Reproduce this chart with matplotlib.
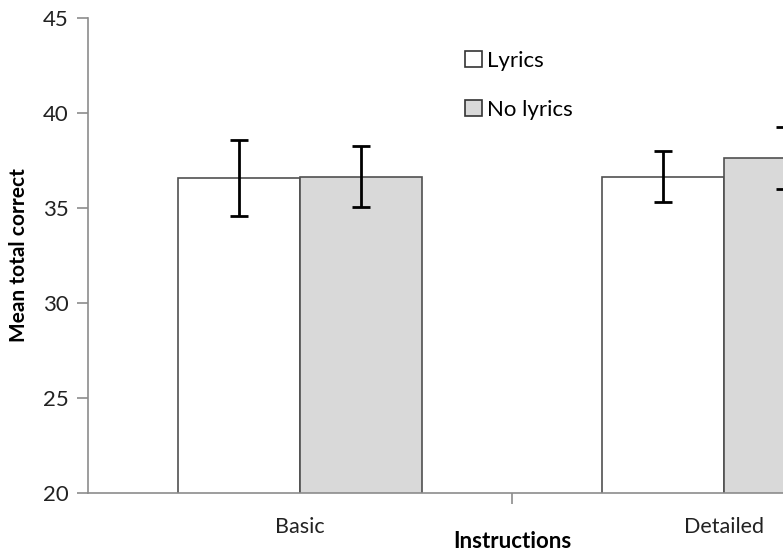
import matplotlib
matplotlib.use("Agg")
import matplotlib.pyplot as plt
import numpy as np

categories = ["Basic", "Detailed"]
series_names = ["Lyrics", "No lyrics"]
lyrics_means = [36.6, 36.65]
lyrics_err = [2.0, 1.35]
nolyrics_means = [36.65, 37.62]
nolyrics_err = [1.6, 1.64]
yticks = [20, 25, 30, 35, 40, 45]

plt.rcParams['font.family'] = ['Lato', 'DejaVu Sans']

W, H = 783, 554
fig = plt.figure(figsize=(W / 100, H / 100), dpi=100)
# axes spans x 88..936 px (clipped by figure), y 18..493 px
axw = 936 - 88
ax = fig.add_axes([88 / W, (H - 493) / H, axw / W, (493 - 18) / H])

x = np.arange(len(categories))
bw = 0.288
axis_col = "#8c8c8c"
edge_col = "#505050"
ekw = dict(ecolor="black", elinewidth=2, capsize=6.5, capthick=2)

ax.bar(x - bw / 2, lyrics_means, bw, color="white", edgecolor=edge_col,
       linewidth=1.2, label=series_names[0], zorder=2)
ax.bar(x + bw / 2, nolyrics_means, bw, color="#d9d9d9", edgecolor=edge_col,
       linewidth=1.2, label=series_names[1], zorder=2)
ax.errorbar(x - bw / 2, lyrics_means, yerr=lyrics_err, fmt="none", zorder=3, **ekw)
ax.errorbar(x + bw / 2, nolyrics_means, yerr=nolyrics_err, fmt="none", zorder=3, **ekw)

ax.set_xlim(-0.5, 1.5)
ax.set_ylim(20, 45)
ax.set_yticks(yticks)
ax.set_yticklabels([str(t) for t in yticks], fontsize=16, color="#222222")

ax.set_xticks([0.5], minor=False)
ax.set_xticklabels([""])
ax.set_xticks(x, minor=True)
ax.set_xticklabels(categories, minor=True, fontsize=15.5, color="#222222")
ax.tick_params(axis="x", which="minor", length=0, pad=17)
ax.tick_params(axis="x", which="major", length=8, color=axis_col, width=1.2)
ax.tick_params(axis="y", length=8, color=axis_col, width=1.2, pad=6)

for s in ["top", "right"]:
    ax.spines[s].set_visible(False)
for s in ["left", "bottom"]:
    ax.spines[s].set_color(axis_col)
    ax.spines[s].set_linewidth(1.2)

ax.set_ylabel("Mean total correct", fontsize=15, fontweight="bold")
ax.yaxis.set_label_coords((19 - 88) / axw, 0.5)
ax.yaxis.label.set_verticalalignment("center")
fig.text(512 / W, 1 - 542 / H, "Instructions", fontsize=16, fontweight="bold",
         ha="center", va="center")

leg = ax.legend(loc="upper left", bbox_to_anchor=(465 / W, 1 - 51 / H),
                bbox_transform=fig.transFigure, frameon=False, fontsize=16,
                handlelength=0.75, handleheight=0.75, handletextpad=0.25,
                labelspacing=1.3, borderpad=0, borderaxespad=0)
for p in leg.get_patches():
    p.set_edgecolor("#333333")
    p.set_linewidth(1.2)

fig.savefig("out.png", dpi=100)
